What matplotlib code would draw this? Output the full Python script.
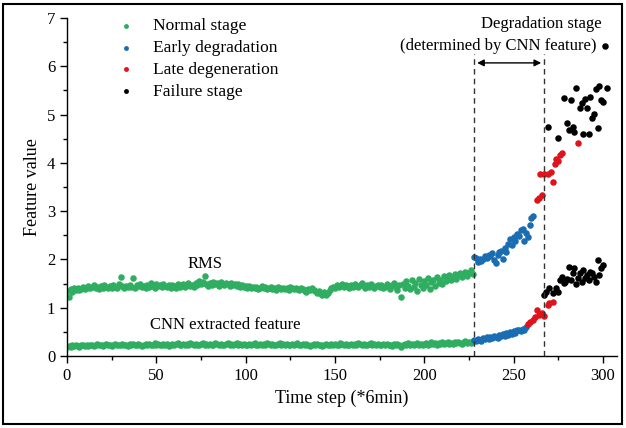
import numpy as np
import matplotlib
matplotlib.use("Agg")
import matplotlib.pyplot as plt
from matplotlib.patches import Rectangle
from matplotlib.ticker import MultipleLocator

# ---------------- data ----------------
rms_normal = [
    1.35,1.22,1.38,1.33,1.40,1.36,1.42,1.37,1.39,1.44,1.38,1.41,1.45,1.40,1.43,1.47,1.41,1.44,1.39,1.46,
    1.42,1.48,1.43,1.40,1.45,1.41,1.47,1.44,1.42,1.49,1.64,1.45,1.41,1.46,1.43,1.48,1.44,1.61,1.42,1.47,
    1.45,1.50,1.43,1.46,1.41,1.48,1.44,1.52,1.46,1.42,1.49,1.45,1.47,1.43,1.50,1.46,1.44,1.48,1.42,1.47,
    1.45,1.41,1.49,1.44,1.46,1.50,1.43,1.47,1.52,1.45,1.48,1.44,1.51,1.47,1.55,1.49,1.53,1.66,1.50,1.46,
    1.52,1.48,1.54,1.49,1.51,1.46,1.53,1.50,1.47,1.52,1.49,1.45,1.51,1.48,1.50,1.46,1.49,1.44,1.47,1.43,
    1.46,1.42,1.45,1.40,1.44,1.41,1.43,1.39,1.42,1.45,1.40,1.43,1.38,1.42,1.44,1.39,1.41,1.37,1.43,1.40,
    1.38,1.42,1.39,1.41,1.37,1.43,1.40,1.38,1.42,1.39,1.36,1.41,1.38,1.35,1.33,1.39,1.36,1.40,1.37,1.34,
    1.31,1.35,1.29,1.27,1.32,1.26,1.30,1.36,1.40,1.44,1.41,1.47,1.43,1.46,1.50,1.44,1.48,1.45,1.42,1.47,
    1.44,1.49,1.46,1.43,1.48,1.51,1.45,1.42,1.47,1.44,1.49,1.46,1.41,1.45,1.48,1.43,1.47,1.40,1.44,1.49,
    1.45,1.38,1.47,1.52,1.43,1.36,1.48,1.23,1.50,1.41,1.55,1.46,1.39,1.57,1.44,1.52,1.35,1.60,1.48,1.42,
    1.55,1.47,1.62,1.38,1.53,1.58,1.45,1.64,1.51,1.57,1.49,1.66,1.55,1.61,1.68,1.58,1.63,1.70,1.60,1.67,
    1.72,1.64,1.69,1.75,1.66,1.73,1.78,1.70,
]
cnn_normal = [
    0.19,0.21,0.18,0.22,0.20,0.23,0.21,0.19,0.22,0.24,0.21,0.23,0.20,0.22,0.24,0.21,0.23,0.25,0.22,0.24,
    0.21,0.23,0.25,0.22,0.24,0.21,0.23,0.26,0.22,0.24,0.23,0.25,0.22,0.24,0.21,0.25,0.23,0.26,0.24,0.22,
    0.25,0.23,0.21,0.24,0.26,0.23,0.25,0.22,0.24,0.27,0.23,0.25,0.22,0.24,0.26,0.23,0.25,0.21,0.24,0.26,
    0.23,0.25,0.27,0.24,0.22,0.25,0.23,0.26,0.24,0.28,0.25,0.23,0.26,0.24,0.22,0.25,0.27,0.24,0.26,0.23,
    0.25,0.22,0.24,0.27,0.25,0.23,0.26,0.24,0.22,0.25,0.27,0.24,0.26,0.23,0.25,0.28,0.24,0.26,0.23,0.25,
    0.22,0.24,0.26,0.23,0.25,0.27,0.24,0.22,0.25,0.23,0.26,0.24,0.27,0.25,0.23,0.26,0.24,0.22,0.25,0.27,
    0.24,0.26,0.23,0.25,0.22,0.24,0.26,0.23,0.25,0.27,0.24,0.22,0.25,0.23,0.26,0.24,0.21,0.24,0.26,0.23,
    0.25,0.22,0.24,0.21,0.23,0.25,0.22,0.24,0.26,0.23,0.25,0.22,0.24,0.27,0.25,0.23,0.26,0.24,0.22,0.25,
    0.23,0.26,0.24,0.27,0.25,0.23,0.26,0.24,0.22,0.25,0.27,0.24,0.26,0.23,0.25,0.22,0.24,0.26,0.23,0.25,
    0.22,0.24,0.21,0.25,0.23,0.26,0.24,0.19,0.22,0.25,0.23,0.27,0.24,0.26,0.23,0.25,0.28,0.24,0.26,0.23,
    0.25,0.27,0.24,0.26,0.29,0.25,0.27,0.24,0.28,0.26,0.29,0.25,0.27,0.30,0.26,0.28,0.25,0.29,0.27,0.30,
    0.28,0.26,0.29,0.31,0.27,0.30,0.28,0.31,
]
normal_t = list(range(len(rms_normal)))

rms_early_t = list(range(228, 262))
rms_early = [2.06,2.04,1.95,2.02,1.97,2.00,2.08,2.04,2.10,2.07,2.13,1.98,1.92,2.09,2.15,2.18,2.02,
             2.23,2.16,2.33,2.42,2.30,2.46,2.38,2.52,2.48,2.61,2.64,2.39,2.55,2.46,2.71,2.85,2.90]
cnn_early_t = list(range(228, 258))
cnn_early = [0.33,0.31,0.36,0.34,0.32,0.37,0.35,0.39,0.36,0.40,0.38,0.42,0.39,0.37,0.43,0.41,0.45,
             0.42,0.47,0.44,0.49,0.46,0.51,0.48,0.53,0.55,0.52,0.57,0.54,0.60]

rms_late_t = [263,264,265,266,267,269,271,272,273,274,275,276,277,286]
rms_late = [3.23,3.27,3.76,3.33,3.76,3.78,3.82,3.61,3.97,4.09,4.04,4.16,4.20,4.42]
cnn_late_t = [258,259,261,262,263,264,266,267,269,270,272]
cnn_late = [0.66,0.70,0.74,0.80,0.95,0.86,0.90,0.83,1.05,1.09,1.12]

rms_fail_t = [269,275,278,280,281,282,283,284,285,287,288,289,290,291,292,293,294,295,296,297,298,299,300,301,302]
rms_fail = [4.75,4.51,5.35,4.82,4.69,5.31,4.75,4.64,5.54,5.13,5.23,4.60,5.32,5.13,4.59,5.36,4.92,5.02,
            5.53,4.73,5.60,5.31,5.27,6.42,5.54]
cnn_fail_t = [267,268,270,272,274,275,276,277,278,279,280,281,282,283,284,285,286,287,288,289,290,291,
              292,293,294,295,296,297,298,299,300]
cnn_fail = [1.26,1.33,1.40,1.30,1.40,1.33,1.57,1.64,1.52,1.54,1.60,1.85,1.58,1.72,1.82,1.50,1.62,1.71,
            1.54,1.78,1.62,1.68,1.57,1.74,1.71,1.63,1.54,1.99,1.68,1.82,1.88]

stage_labels = ["Normal stage", "Early degradation", "Late degeneration", "Failure stage"]
stage_colors = ["#2fae62", "#1a6db3", "#e0121c", "#000000"]
degr_start, degr_end = 228, 267

# ---------------- plot ----------------
plt.rcParams['font.family'] = ['Liberation Serif', 'DejaVu Serif']
fig = plt.figure(figsize=(6.26, 4.28), dpi=100)
ax = fig.add_axes([0.107, 0.168, 0.879, 0.790])

s = 22
ax.scatter(normal_t, rms_normal, s=s, color=stage_colors[0], lw=0, label=stage_labels[0])
ax.scatter(normal_t, cnn_normal, s=s, color=stage_colors[0], lw=0)
ax.scatter(rms_early_t, rms_early, s=s, color=stage_colors[1], lw=0, label=stage_labels[1])
ax.scatter(cnn_early_t, cnn_early, s=s, color=stage_colors[1], lw=0)
ax.scatter(rms_late_t, rms_late, s=s, color=stage_colors[2], lw=0, label=stage_labels[2])
ax.scatter(cnn_late_t, cnn_late, s=s, color=stage_colors[2], lw=0)
ax.scatter(rms_fail_t, rms_fail, s=s, color=stage_colors[3], lw=0, label=stage_labels[3])
ax.scatter(cnn_fail_t, cnn_fail, s=s, color=stage_colors[3], lw=0)

ax.set_xlim(0, 308)
ax.set_ylim(0, 7)
ax.xaxis.set_major_locator(MultipleLocator(50))
ax.xaxis.set_minor_locator(MultipleLocator(25))
ax.yaxis.set_major_locator(MultipleLocator(1))
ax.yaxis.set_minor_locator(MultipleLocator(0.5))
ax.tick_params(which='both', direction='out', width=1.0, labelsize=12)
ax.tick_params(which='major', length=5)
ax.tick_params(which='minor', length=3)
ax.spines['top'].set_visible(False)
ax.spines['right'].set_visible(False)
ax.spines['left'].set_linewidth(1.0)
ax.spines['bottom'].set_linewidth(1.0)

ax.set_xlabel("Time step (*6min)", fontsize=13)
ax.set_ylabel("Feature value", fontsize=13)

# vertical dashed lines and arrow
for xv in (degr_start, degr_end):
    ax.plot([xv, xv], [0, 6.25], ls=(0, (4, 3)), color='#333333', lw=1.0)
ax.annotate("", xy=(degr_start, 6.07), xytext=(degr_end, 6.07),
            arrowprops=dict(arrowstyle='<|-|>', color='black', lw=1.0, mutation_scale=10))
ax.text(265.5, 6.87, "Degradation stage", ha='center', va='center', fontsize=12)
ax.text(241.5, 6.42, "(determined by CNN feature)", ha='center', va='center', fontsize=12)
ax.text(77, 1.9, "RMS", ha='center', va='center', fontsize=12)
ax.text(88.5, 0.64, "CNN extracted feature", ha='center', va='center', fontsize=12)

leg = ax.legend(loc='upper left', bbox_to_anchor=(0.047, 1.046), frameon=False, fontsize=12.5,
                handletextpad=0.55, labelspacing=0.33, markerscale=0.75)

fig.patches.append(Rectangle((3/626, 4/428), 619/626, 420/428, transform=fig.transFigure,
                             fill=False, edgecolor='black', lw=1.5))

fig.savefig("out.png", dpi=100)
